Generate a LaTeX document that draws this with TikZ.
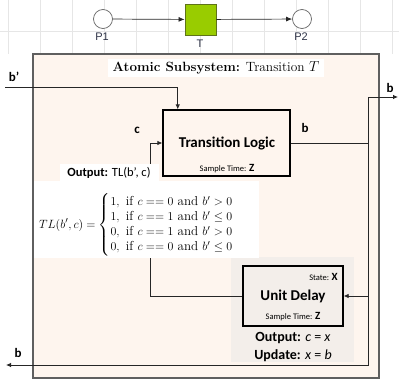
\documentclass[tikz,border=0pt]{standalone}
\usepackage{amsmath,amssymb}
\usepackage{fontspec}
\newfontfamily\calibri{Carlito}
\newfontfamily\arial{Liberation Sans}
\usetikzlibrary{arrows.meta,positioning,calc}
\definecolor{peach}{RGB}{254,245,238}
\definecolor{delaybg}{RGB}{243,238,234}
\definecolor{tgreen}{RGB}{153,204,0}
\definecolor{tborder}{RGB}{95,115,25}
\definecolor{framegray}{RGB}{95,95,95}
\definecolor{gridgray}{RGB}{230,230,230}
\definecolor{pnink}{RGB}{45,50,70}

\begin{document}
\begin{tikzpicture}[x=1pt,y=-1pt,>=Latex,
  place/.style={circle,draw=gray!80!black,fill=white,minimum size=19pt,inner sep=0pt,line width=.7pt},
  transition/.style={draw=tborder,fill=tgreen,minimum size=31pt,inner sep=0pt,line width=.9pt},
  pnarc/.style={gray!30!black,line width=.7pt,-{Latex[length=6pt,width=5pt]}},
  pnlabel/.style={font=\arial\fontsize{11}{12}\selectfont,text=pnink,inner sep=0pt},
  block/.style={draw=black,line width=1.3pt,inner sep=0pt},
  wire/.style={black!85,line width=.8pt},
  tip/.style={-{Latex[length=5pt,width=4.5pt]}},
  sig/.style={font=\calibri\bfseries\fontsize{13}{14}\selectfont,inner sep=0pt},
  blocktitle/.style={font=\calibri\bfseries\fontsize{15}{16}\selectfont,inner sep=0pt},
  tiny/.style={font=\calibri\fontsize{8.5}{9}\selectfont,inner sep=0pt},
  note/.style={font=\calibri\fontsize{14}{15}\selectfont,inner sep=0pt}]
\useasboundingbox (0,0) rectangle (399,380);
\foreach \x in {8,40,...,400}{\draw[gridgray] (\x,0)--(\x,54);}
\draw[gridgray] (0,31)--(399,31);
\node[place] (p1) at (103,19){};
\node[transition] (t) at (200.5,19.5){};
\node[place] (p2) at (302,19){};
\draw[pnarc] (p1)--(t);
\draw[pnarc] (t)--(p2);
\node[pnlabel] (p1lbl) at (102,37){P1};
\node[pnlabel] (tlbl) at (200,44){T};
\node[pnlabel] (p2lbl) at (301,37){P2};
\draw[framegray,line width=1.3pt,fill=peach] (33,54) rectangle (379,378);
\fill[delaybg] (231,257) rectangle (354,362);
\node[block,minimum width=127pt,minimum height=66pt] (tl) at (226.5,143){};
\node[block,fill=delaybg,minimum width=100pt,minimum height=60pt] (ud) at (293,296){};
\coordinate (bin) at (5,87);
\coordinate (cknee) at (150,143);
\coordinate (bsplit) at (368,143);
\coordinate (bup) at (368,97);
\coordinate (bout) at (398,97);
\coordinate (bback) at (6,365);
\draw[wire,tip] (bin) -| ($(tl.north west)!.12!(tl.north east)$);
\draw[wire,tip] (ud.west) -| (cknee) -- (tl.west);
\draw[wire] (tl.east) -- (bsplit);
\draw[wire,tip] (bsplit) -- (bup) -- (bout);
\draw[wire,tip] (bsplit) |- (ud.east);
\draw[wire,tip] (bsplit) |- (bback);
\fill[white] (34,181) rectangle (259,258);
\fill[white] (60,164) rectangle (159,181);
\node[fill=white,inner xsep=5pt,inner ysep=3pt,font=\fontsize{13.4}{15}\selectfont] (title) at (216,68){\textbf{Atomic Subsystem:} Transition $T$};
\node[sig] (bprime) at (14,77){b’};
\node[sig] (clbl) at (137,130){c};
\node[sig] (blbl) at (305,128){b};
\node[sig] (boutlbl) at (390,88){b};
\node[sig] (bbacklbl) at (18,353){b};
\node[blocktitle] (tltxt) at (227,143){Transition Logic};
\node[tiny] (tlst) at (227,169){Sample Time: {\fontsize{11}{12}\selectfont\bfseries Z}};
\node[font=\calibri\fontsize{12.5}{13}\selectfont,inner sep=0pt] (outtl) at (109,173){\textbf{Output:} TL(b’, c)};
\node[anchor=west,inner sep=0pt,font=\fontsize{13}{12.5}\selectfont] (tlfun) at (39,225){$TL(b',c)=\begin{cases}1,\ \text{if }c==0\text{ and }b'>0\\1,\ \text{if }c==1\text{ and }b'\leq0\\0,\ \text{if }c==1\text{ and }b'>0\\0,\ \text{if }c==0\text{ and }b'\leq0\end{cases}$};
\node[tiny,anchor=east] (udst) at (338,277){State: {\fontsize{11}{12}\selectfont\bfseries X}};
\node[blocktitle] (udtxt) at (293,296){Unit Delay};
\node[tiny] (udsample) at (293,317){Sample Time: {\fontsize{11}{12}\selectfont\bfseries Z}};
\node[note] (udout) at (293,338){\textbf{Output:} \textit{c} = \textit{x}};
\node[note] (udupd) at (293,356){\textbf{Update:} \textit{x} = \textit{b}};
\end{tikzpicture}
\end{document}
